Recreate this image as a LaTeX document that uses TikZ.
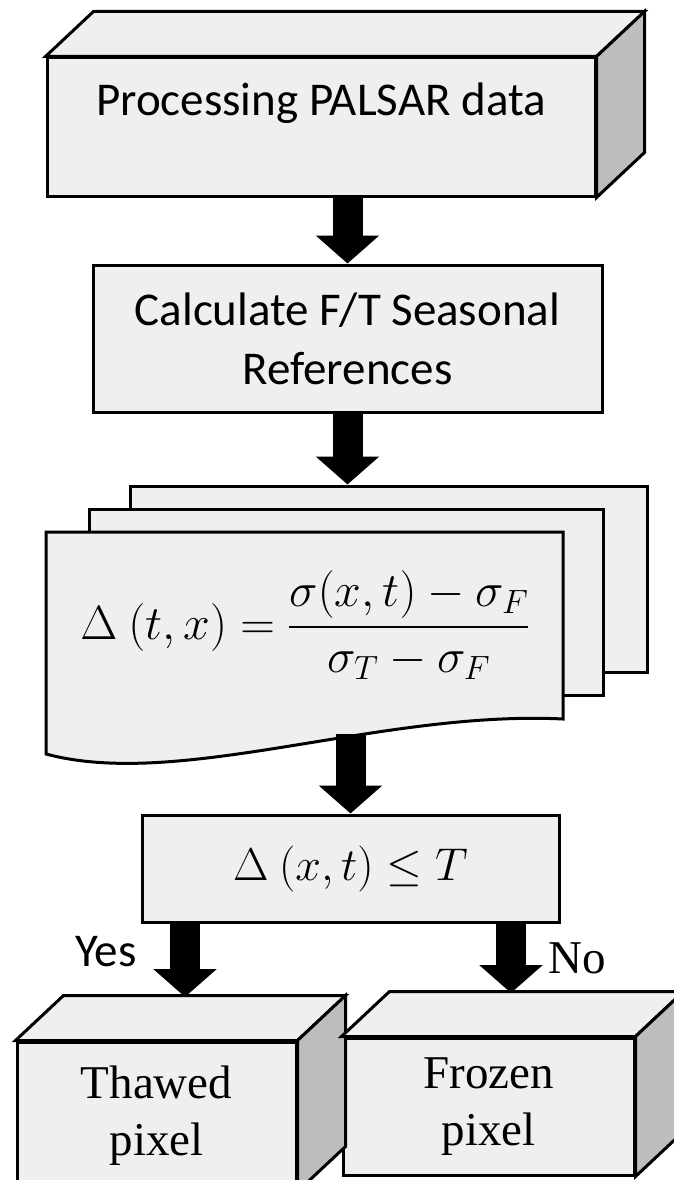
\documentclass[tikz,border=0pt]{standalone}
\usepackage{fix-cm}
\usepackage{amsmath, amssymb}
\usepackage{fontspec}
\setmainfont{Carlito}
\newfontfamily\serifbox{Liberation Serif}
\usepackage{tikz}
\usetikzlibrary{positioning, arrows.meta, calc}
\definecolor{BoxFill}{HTML}{EFEFEF}
\definecolor{SideFill}{HTML}{BDBDBD}
\newcommand{\boxfont}{\fontsize{47}{59}\selectfont}
\newcommand{\pixfont}{\serifbox\fontsize{47}{57}\selectfont}
\newcommand{\eqfont}{\fontsize{48}{56}\selectfont}
\newcommand{\decfont}{\fontsize{46}{54}\selectfont}

\begin{document}
\begin{tikzpicture}[
  x=1pt, y=-1pt,
  box/.style={draw, line width=3pt, fill=BoxFill, inner sep=0pt, align=center},
  side/.style={draw, line width=3pt, fill=SideFill},
  flow/.style={line width=30pt, -{Triangle[length=28pt, width=62pt]}},
]
  \useasboundingbox (0,0) rectangle (673,1180);

  % Processing box (3D)
  \node[box, minimum width=548pt, minimum height=138pt] (proc) at (321,127) {};
  \node[font=\boxfont] (proctext) at ([yshift=24pt]proc.center) {Processing PALSAR data};

  % Seasonal references
  \node[box, font=\boxfont, minimum width=509pt, minimum height=147pt] (calc) at (347.5,338.5)
    {Calculate F/T Seasonal\\References};

  % Stack of sheets
  \node[box, minimum width=517pt, minimum height=186pt] (sheetc) at (388.5,579) {};
  \node[box, minimum width=514pt, minimum height=186pt] (sheetb) at (346,602) {};
  \draw[box] (46,532) -- (563,532) -- (563,719)
    .. controls (380,710) and (180,790) .. (46,754) coordinate[pos=0.38] (wave) -- cycle;
  \node[font=\eqfont] (eq) at (305,625)
    {$\Delta\ (t,x)=\dfrac{\sigma(x,t)-\sigma_F}{\sigma_T-\sigma_F}$};

  % Decision
  \node[box, font=\decfont, minimum width=417pt, minimum height=107pt] (dec) at (350.5,868.5)
    {$\Delta\ (x,t)\le T$};

  % Result boxes (3D)
  \node[box, font=\pixfont, minimum width=279pt, minimum height=148pt] (thaw) at (156.5,1116)
    {Thawed\\pixel};
  \node[box, font=\pixfont, minimum width=291pt, minimum height=137pt] (froz) at (488.5,1106.5)
    {Frozen\\pixel};

  \foreach \n in {proc, thaw, froz} {
    \draw[box] (\n.north west) -- ([shift={(48,-45)}]\n.north west)
      -- ([shift={(48,-45)}]\n.north east) -- (\n.north east) -- cycle;
    \draw[side] (\n.north east) -- ([shift={(48,-45)}]\n.north east)
      -- ([shift={(48,-45)}]\n.south east) -- (\n.south east) -- cycle;
  }

  % Connectors
  \coordinate (yesend) at (185,997);
  \coordinate (noend) at (511,993);
  \draw[flow] (calc.north |- proc.south) -- (calc.north);
  \draw[flow] (calc.south) -- (calc.south |- sheetc.north);
  \draw[flow] ([yshift=2pt]dec.north |- wave) -- (dec.north);
  \draw[flow] (dec.south -| yesend) -- (yesend);
  \draw[flow] (dec.south -| noend) -- (noend);

  \node[font=\boxfont] (yes) at (106,952) {Yes};
  \node[font=\pixfont] (no) at (577,958) {No};
\end{tikzpicture}
\end{document}
